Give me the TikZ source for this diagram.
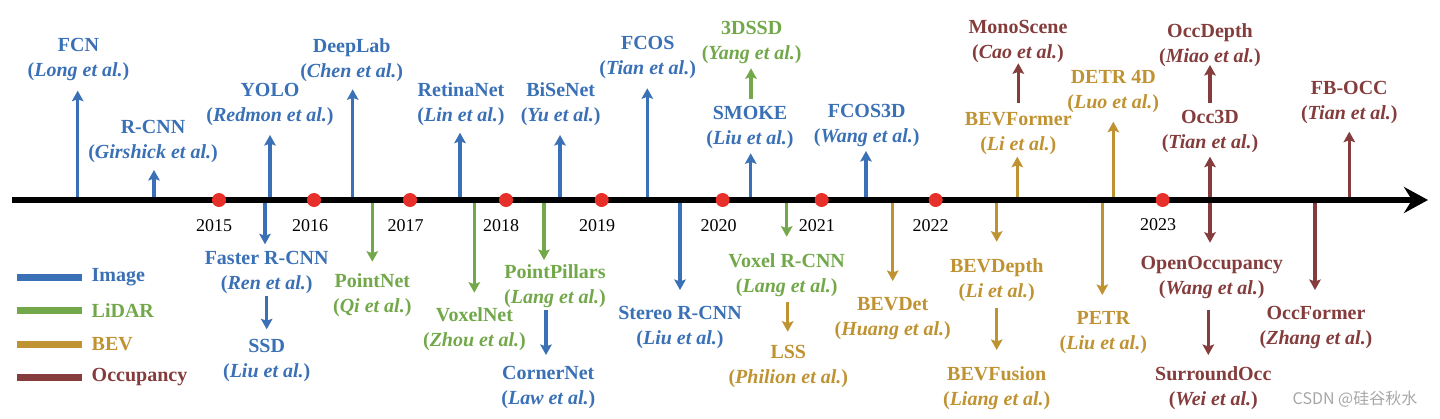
\documentclass[tikz,border=0pt]{standalone}
\usepackage{fontspec}
\setmainfont{Liberation Serif}
\newfontfamily\cjkfont{Noto Sans CJK SC}
\usetikzlibrary{arrows.meta}
\definecolor{cimg}{HTML}{3A70B5}
\definecolor{clid}{HTML}{72A84A}
\definecolor{cbev}{HTML}{BF9232}
\definecolor{cocc}{HTML}{843C3C}
\definecolor{cdot}{HTML}{E8302A}
\newcommand\au[1]{(\textit{#1 et al.})}
\newcommand\evup[7]{%
  \coordinate (#1-b) at (#3,200);
  \node[lab,#2,anchor=south] (#1) at (#5,#6+35.9) {#7};
  \pgfmathsetmacro\gp{#4-#6-35.9}
  \draw[arr,#2,shorten >=\gp pt] (#1-b) -- (#1-b |- #1.south);}
\newcommand\evdown[7]{%
  \coordinate (#1-b) at (#3,200);
  \node[lab,#2,anchor=north] (#1) at (#5,#6-6.9) {#7};
  \pgfmathsetmacro\gp{#6-6.9-#4}
  \draw[arr,#2,shorten >=\gp pt] (#1-b) -- (#1-b |- #1.north);}
\newcommand\chup[9]{%
  \coordinate (#1-x) at (#5,0);
  \node[lab,#2,anchor=south] (#1) at (#7,#8+35.9) {#9};
  \pgfmathsetmacro\gp{#6-#8-35.9}
  \draw[arr,#2,shorten <=#4pt,shorten >=\gp pt] (#3.north -| #1-x) -- (#1.south -| #1-x);}
\newcommand\chdown[9]{%
  \coordinate (#1-x) at (#5,0);
  \node[lab,#2,anchor=north] (#1) at (#7,#8-6.9) {#9};
  \pgfmathsetmacro\gp{#8-6.9-#6}
  \draw[arr,#2,shorten <=#4pt,shorten >=\gp pt] (#3.south -| #1-x) -- (#1.north -| #1-x);}
\tikzset{
  lab/.style={font=\fontsize{20}{25}\selectfont\bfseries, align=center, inner sep=0pt},
  arr/.style={line width=3.4pt, -{Stealth[length=10.5pt,width=11.5pt,inset=2pt]}},
  img/.style={color=cimg}, lid/.style={color=clid}, bev/.style={color=cbev}, occ/.style={color=cocc},
  yr/.style={font=\fontsize{18}{20}\selectfont, inner sep=0pt},
  dot/.style={circle, fill=cdot, minimum size=14pt, inner sep=0pt},
  legbar/.style={line width=7pt},
  legtxt/.style={font=\fontsize{20}{24}\selectfont\bfseries, anchor=west, inner sep=0pt},
}
\begin{document}
\begin{tikzpicture}[x=1pt,y=-1pt]
\useasboundingbox (0,0) rectangle (1440,418);
% upward events
\evup{fcn}{img}{77.7}{90.7}{78.5}{45.5}{FCN\\\au{Long}}
\evup{rcnn}{img}{154}{170}{153}{126.7}{R-CNN\\\au{Girshick}}
\evup{yolo}{img}{270}{135}{270}{90}{YOLO\\\au{Redmon}}
\evup{deeplab}{img}{352.7}{89.3}{351.7}{45.7}{DeepLab\\\au{Chen}}
\evup{retina}{img}{460}{132.7}{461}{90}{RetinaNet\\\au{Lin}}
\evup{bisenet}{img}{560}{135}{560.7}{90}{BiSeNet\\\au{Yu}}
\evup{fcos}{img}{647.3}{88.3}{647.7}{43.3}{FCOS\\\au{Tian}}
\evup{smoke}{img}{750.7}{153.3}{750}{113.3}{SMOKE\\\au{Liu}}
\chup{dssd}{lid}{smoke}{7.1}{751}{68.3}{751.7}{28.3}{3DSSD\\\au{Yang}}
\evup{fcos3d}{img}{866}{151}{866.7}{111}{FCOS3D\\\au{Wang}}
\evup{bevformer}{bev}{1017.3}{156.7}{1018.3}{119}{BEVFormer\\\au{Li}}
\chup{mono}{occ}{bevformer}{9.4}{1018.3}{63.3}{1018}{27.3}{MonoScene\\\au{Cao}}
\evup{detr}{bev}{1113.3}{121.7}{1113.3}{77.3}{DETR 4D\\\au{Luo}}
\evup{occ3d}{occ}{1210}{156.7}{1210}{116.7}{Occ3D\\\au{Tian}}
\chup{occdepth}{occ}{occ3d}{7.1}{1210}{65}{1210}{31.5}{OccDepth\\\au{Miao}}
\evup{fbocc}{occ}{1349.3}{131.7}{1349.3}{88.3}{FB-OCC\\\au{Tian}}
% downward events
\evdown{faster}{img}{265}{244.3}{266.7}{258.3}{Faster R-CNN\\\au{Ren}}
\chdown{ssd}{img}{faster}{1.8}{266.7}{329.3}{266.7}{346}{SSD\\\au{Liu}}
\evdown{pointnet}{lid}{372.3}{261.7}{372.3}{280.7}{PointNet\\\au{Qi}}
\evdown{voxelnet}{lid}{474.3}{292.7}{474.5}{314.5}{VoxelNet\\\au{Zhou}}
\evdown{pillars}{lid}{544}{260}{555}{271.7}{PointPillars\\\au{Lang}}
\chdown{corner}{img}{pillars}{1.7}{546}{355}{548.3}{372.7}{CornerNet\\\au{Law}}
\evdown{stereo}{img}{680}{290}{680}{313.3}{Stereo R-CNN\\\au{Liu}}
\evdown{voxrcnn}{lid}{786.7}{236.7}{786.7}{260}{Voxel R-CNN\\\au{Lang}}
\chdown{lss}{bev}{voxrcnn}{5.8}{787.7}{331.7}{788.3}{351.7}{LSS\\\au{Philion}}
\evdown{bevdet}{bev}{892.7}{281}{892.7}{304}{BEVDet\\\au{Huang}}
\evdown{bevdepth}{bev}{996.7}{241.7}{996.7}{265}{BEVDepth\\\au{Li}}
\chdown{bevfusion}{bev}{bevdepth}{6.8}{996.7}{350}{996.7}{373.3}{BEVFusion\\\au{Liang}}
\evdown{petr}{bev}{1102.3}{295}{1103.3}{318.3}{PETR\\\au{Liu}}
\evdown{openocc}{occ}{1210}{242.7}{1211.7}{262.7}{OpenOccupancy\\\au{Wang}}
\chdown{surround}{occ}{openocc}{11.4}{1208.3}{355}{1213.3}{373.3}{SurroundOcc\\\au{Wei}}
\evdown{occformer}{occ}{1315}{290}{1316}{313.3}{OccFormer\\\au{Zhang}}
% timeline
\coordinate (tls) at (12,200);
\coordinate (tle) at (1428,200);
\draw[line width=6pt, -{Stealth[length=24pt,width=26pt,inset=8pt]}] (tls) -- (tle);
\node[dot] (d2015) at (219,200) {};
\node[dot] (d2016) at (314,200) {};
\node[dot] (d2017) at (410,200) {};
\node[dot] (d2018) at (506,200) {};
\node[dot] (d2019) at (601.7,200) {};
\node[dot] (d2020) at (722.7,200) {};
\node[dot] (d2021) at (821.7,200) {};
\node[dot] (d2022) at (935.7,200) {};
\node[dot] (d2023) at (1162.7,200) {};
\node[yr] (y2015) at (214,225.5) {2015};
\node[yr] (y2016) at (310,225.5) {2016};
\node[yr] (y2017) at (405.5,225.5) {2017};
\node[yr] (y2018) at (501,225.5) {2018};
\node[yr] (y2019) at (597,225.5) {2019};
\node[yr] (y2020) at (718.7,225.5) {2020};
\node[yr] (y2021) at (816.8,225.5) {2021};
\node[yr] (y2022) at (930.7,225.5) {2022};
\node[yr] (y2023) at (1158,224.5) {2023};
% legend
\draw[legbar,cimg] (17,277.3) -- (82,277.3);
\draw[legbar,clid] (17,310.7) -- (82,310.7);
\draw[legbar,cbev] (17,344) -- (82,344);
\draw[legbar,cocc] (17,377.3) -- (82,377.3);
\node[legtxt,cimg] (lgimg) at (91.5,277.3) {Image};
\node[legtxt,clid] (lglid) at (91.5,310.7) {LiDAR};
\node[legtxt,cbev] (lgbev) at (91.5,344) {BEV};
\node[legtxt,cocc] (lgocc) at (91.5,377.3) {Occupancy};
% watermark
\node[font=\cjkfont\fontsize{16}{18}\selectfont, text=black!35, inner sep=0pt] (wm) at (1355,399.5) {CSDN @硅谷秋水};
\end{tikzpicture}
\end{document}
